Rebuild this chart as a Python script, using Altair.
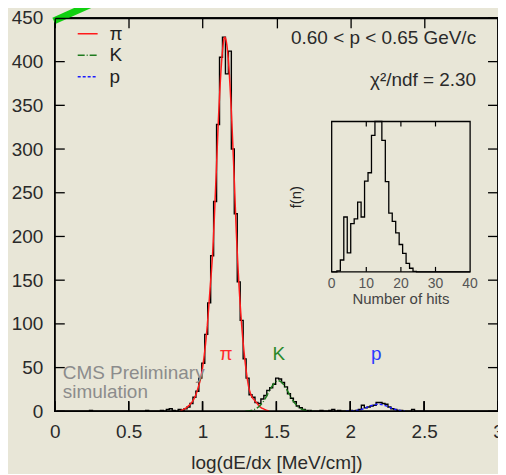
import altair as alt
import pandas as pd

# ---------------- data ----------------
hist_start = 0.015
hist_bin = 0.02
hist_counts = [
    0, 0, 0, 0, 0, 0, 0, 0, 0, 0,
    0, 1, 0, 0, 0, 0, 0, 0, 0, 0,
    0, 0, 0, 0, 0, 0, 0, 0, 0, 0,
    1, 0, 0, 0, 0, 1, 0, 2, 3, 1,
    0, 2, 1, 3, 5, 9, 16, 23, 38, 55,
    88, 124, 178, 240, 328, 405, 428, 386, 412, 300,
    226, 148, 104, 60, 38, 19, 16, 10, 9, 14,
    18, 24, 27, 31, 38, 37, 33, 28, 20, 15,
    11, 6, 4, 2, 1, 1, 0, 0, 0, 1,
    0, 0, 1, 2, 0, 1, 0, 0, 0, 1,
    0, 1, 2, 7, 4, 5, 6, 7, 10, 10,
    9, 8, 5, 3, 2, 1, 1, 0, 0, 0,
    2, 0, 0, 0, 0, 0, 0, 0, 0, 0,
    0, 0, 0, 0, 0, 0, 0, 0, 0, 0,
    0, 0, 0, 0, 0, 0, 0, 0, 0, 0,
]

fit_step = 0.02
pion_x0 = 0.85
pion_fit = [0.8, 2, 4, 7, 11, 17, 27, 40, 62, 94, 138, 186, 262, 343, 402, 428,
            411, 360, 285, 200, 135, 88, 54, 30, 18, 13, 9, 5, 3, 1.5, 0.5]
kaon_x0 = 1.29
kaon_fit = [0.2, 0.4, 1.0, 2.0, 3.8, 6.6, 10.8, 16.3, 22.7, 28.4, 32.9, 35, 34,
            30.3, 24.9, 18.8, 12.9, 8.2, 4.7, 2.5, 1.2, 0.6, 0.2, 0.1]
proton_x0 = 1.97
proton_fit = [0.1, 0.15, 0.3, 0.6, 1.1, 1.8, 2.9, 4.3, 5.8, 6.8, 7.7, 8, 7.7,
              6.8, 5.8, 4.3, 2.9, 1.8, 1.1, 0.6, 0.3]

particles = ["π", "K", "p"]
fit_colors = ["#ff1a1a", "#1e7b1e", "#1a1aff"]
fit_dashes = [[1, 0], [7, 2, 1, 2], [3, 2]]
peak_label_x = [1.159, 1.517, 2.176]
peak_label_y = [59, 59, 59]
peak_label_colors = ["#ff2a2a", "#2a8a2a", "#2a3aff"]

x_ticks = [0, 0.5, 1, 1.5, 2, 2.5, 3]
y_ticks = [0, 50, 100, 150, 200, 250, 300, 350, 400, 450]

hits_counts = [0, 0, 7, 79, 365, 127, 321, 352, 464, 365, 604, 659, 908, 1150,
               1100, 875, 600, 391, 336, 259, 182, 123, 57, 24, 4,
               0, 0, 0, 0, 0, 0, 0, 0, 0, 0, 0, 0, 0, 0, 0, 0]
hits_ticks = [0, 10, 20, 30, 40]
hits_inner_ticks = [10, 20, 30]

x_title = "log(dE/dx [MeV/cm])"
momentum_text = "0.60 < p < 0.65 GeV/c"
chi2_text = "χ²/ndf = 2.30"
cms_lines = ["CMS Preliminary", "simulation"]
inset_x_title = "Number of hits"
inset_y_title = "f(n)"

# ---------------- styling ----------------
FONT = "Liberation Sans"
TXT = "#2a2a2a"
BG = "#e8e6d7"
W, H = 445, 395

# ---------------- tables ----------------
edges = [round(hist_start + k * hist_bin, 4) for k in range(len(hist_counts) + 1)]
hist_df = pd.DataFrame({"edge": edges, "count": hist_counts + [0]})

rows = []
for name, x0, vals in zip(particles, [pion_x0, kaon_x0, proton_x0],
                          [pion_fit, kaon_fit, proton_fit]):
    for i, v in enumerate(vals):
        rows.append({"x": round(x0 + i * fit_step, 4), "y": v, "particle": name})
fit_df = pd.DataFrame(rows)

peak_df = pd.DataFrame({"x": peak_label_x, "y": peak_label_y,
                        "label": particles, "c": peak_label_colors})

hits_df = pd.DataFrame({
    "n": [n - 0.5 for n in range(len(hits_counts))] + [len(hits_counts) - 0.5],
    "f": hits_counts + [0],
})


def xs():
    return alt.Scale(domain=[0, 3], nice=False, zero=False)


def ys():
    return alt.Scale(domain=[0, 450], nice=False, zero=False)


x_axis = alt.Axis(values=x_ticks, format="~g", ticks=False, tickSize=0, domain=False,
                  grid=False, labelFontSize=19, labelFont=FONT, labelColor=TXT,
                  labelPadding=11, labelFlush=False, title=x_title, titleFontSize=19,
                  titleFont=FONT, titleFontWeight="normal", titleColor=TXT,
                  titlePadding=12, orient="bottom")
y_axis = alt.Axis(values=y_ticks, format="d", ticks=False, tickSize=0, domain=False,
                  grid=False, labelFontSize=19, labelFont=FONT, labelColor=TXT,
                  labelPadding=12, labelFlush=False, title=None, orient="left")

hist = alt.Chart(hist_df).mark_line(
    interpolate="step-after", color="black", strokeWidth=1.4, clip=True
).encode(
    x=alt.X("edge:Q", scale=xs(), axis=x_axis),
    y=alt.Y("count:Q", scale=ys(), axis=y_axis),
)

leg = alt.Legend(title=None, orient="none", legendX=22, legendY=5, symbolType="stroke",
                 symbolSize=400, symbolStrokeWidth=1.5, labelFontSize=19,
                 labelFont=FONT, labelColor="#222222", labelOffset=11,
                 rowPadding=0.5, padding=0)

fits = alt.Chart(fit_df).mark_line(
    interpolate="monotone", strokeWidth=1.5, clip=True
).encode(
    x=alt.X("x:Q", scale=xs(), axis=None),
    y=alt.Y("y:Q", scale=ys(), axis=None),
    color=alt.Color("particle:N", scale=alt.Scale(domain=particles, range=fit_colors),
                    legend=leg),
    strokeDash=alt.StrokeDash("particle:N",
                              scale=alt.Scale(domain=particles, range=fit_dashes),
                              legend=leg),
)

peaks = alt.Chart(peak_df).mark_text(
    fontSize=19, font=FONT, baseline="alphabetic", align="center"
).encode(
    x=alt.X("x:Q", scale=xs(), axis=None),
    y=alt.Y("y:Q", scale=ys(), axis=None),
    text="label:N",
    color=alt.Color("c:N", scale=None),
)

tx_df = pd.DataFrame({"v": x_ticks})
ty_df = pd.DataFrame({"v": y_ticks})
tick_bottom = alt.Chart(tx_df).mark_rule(color="black", strokeWidth=1.3).encode(
    x=alt.X("v:Q", scale=xs(), axis=None), y=alt.value(H), y2=alt.value(H - 10))
tick_left = alt.Chart(ty_df).mark_rule(color="black", strokeWidth=1.3).encode(
    y=alt.Y("v:Q", scale=ys(), axis=None), x=alt.value(0), x2=alt.value(10))
tick_right = alt.Chart(ty_df).mark_rule(color="black", strokeWidth=1.3).encode(
    y=alt.Y("v:Q", scale=ys(), axis=None), x=alt.value(W), x2=alt.value(W - 10))

# top frame edge and inward top ticks drawn as axes (drawn above the marks)
top_ticks_axis = alt.Axis(orient="top", offset=-10, values=x_ticks, domain=False,
                          ticks=True, tickSize=10, tickColor="black", tickWidth=1.3,
                          labels=False, grid=False, title=None, zindex=2)
top_edge_axis = alt.Axis(orient="top", offset=0, values=x_ticks, domain=True,
                         domainColor="black", domainWidth=1.5, ticks=False,
                         labels=False, grid=False, title=None, zindex=2)
top_ticks = alt.Chart(tx_df).mark_rule(color="black", strokeWidth=1.3).encode(
    x=alt.X("v:Q", scale=xs(), axis=top_ticks_axis), y=alt.value(H), y2=alt.value(H - 10))
top_edge = alt.Chart(tx_df).mark_rule(color="black", strokeWidth=1.3).encode(
    x=alt.X("v:Q", scale=xs(), axis=top_edge_axis), y=alt.value(H), y2=alt.value(H - 10))

edge_df = pd.DataFrame({"x0": [0], "x1": [3], "y0": [0], "y1": [450]})
frame_main = alt.Chart(edge_df).mark_rect(
    fill="transparent", stroke="black", strokeWidth=1.5
).encode(
    x=alt.X("x0:Q", scale=xs(), axis=None), x2="x1:Q",
    y=alt.Y("y0:Q", scale=ys(), axis=None), y2="y1:Q",
)


def label(text, x, y, size=19, color=TXT, align="left", angle=0, baseline="alphabetic"):
    kw = dict(fontSize=size, font=FONT, color=color, align=align, baseline=baseline)
    if angle:
        kw["angle"] = angle
    return alt.Chart(pd.DataFrame({"t": [text]})).mark_text(**kw).encode(
        text="t:N", x=alt.value(x), y=alt.value(y))


txt_mom = label(momentum_text, 423, 26, align="right")
txt_chi = label(chi2_text, 423, 68, align="right")
txt_cms1 = label(cms_lines[0], 8, 363, color="#8c8c8c")
txt_cms2 = label(cms_lines[1], 8, 382, color="#8c8c8c")

one = pd.DataFrame({"a": [0]})
green = alt.Chart(one).mark_rule(
    color="#10d010", strokeWidth=7, clip=False
).encode(x=alt.value(-1), y=alt.value(3), x2=alt.value(46), y2=alt.value(-18))

# ---------------- inset ----------------
def ixs():
    return alt.Scale(domain=[0, 40], range=[278, 417], clamp=True, nice=False, zero=False)


def iys():
    return alt.Scale(domain=[0, 1000], range=[255, 104], clamp=True, nice=False, zero=False)


frame = alt.Chart(pd.DataFrame({"x0": [0], "x1": [40], "y0": [0], "y1": [1000]})).mark_rect(
    fill="transparent", stroke="black", strokeWidth=1.3
).encode(
    x=alt.X("x0:Q", scale=ixs(), axis=None), x2="x1:Q",
    y=alt.Y("y0:Q", scale=iys(), axis=None), y2="y1:Q",
)
hits_line = alt.Chart(hits_df).mark_line(
    interpolate="step-after", color="black", strokeWidth=1.3
).encode(
    x=alt.X("n:Q", scale=ixs(), axis=None),
    y=alt.Y("f:Q", scale=iys(), axis=None),
)
it_df = pd.DataFrame({"v": hits_inner_ticks})
itick_top = alt.Chart(it_df).mark_rule(color="black", strokeWidth=1.2).encode(
    x=alt.X("v:Q", scale=ixs(), axis=None), y=alt.value(104), y2=alt.value(109))
itick_bot = alt.Chart(it_df).mark_rule(color="black", strokeWidth=1.2).encode(
    x=alt.X("v:Q", scale=ixs(), axis=None), y=alt.value(255), y2=alt.value(250))
ilabels = alt.Chart(pd.DataFrame({"v": hits_ticks})).mark_text(
    fontSize=14, font=FONT, color="#555555", baseline="alphabetic", align="center"
).encode(
    x=alt.X("v:Q", scale=ixs(), axis=None), y=alt.value(271), text="v:N")
ixt = label(inset_x_title, 347.5, 287, size=15, color="#444444", align="center")
iyt = label(inset_y_title, 242, 180, size=15, color="#222222", align="center",
            angle=270, baseline="middle")

chart = alt.layer(
    hist, fits, peaks, tick_bottom, tick_left, tick_right,
    txt_mom, txt_chi, txt_cms1, txt_cms2,
    frame, hits_line, itick_top, itick_bot, ilabels, ixt, iyt,
    frame_main, green, top_ticks, top_edge,
).resolve_scale(
    x="independent", y="independent"
).properties(
    width=W, height=H, background=BG,
    padding={"left": 47, "top": 9, "right": 0, "bottom": 62},
    autosize=alt.AutoSizeParams(type="none"),
).configure_view(stroke="black", strokeWidth=1.5)

chart.save("out.html", embed_options={"renderer": "svg", "actions": False})
